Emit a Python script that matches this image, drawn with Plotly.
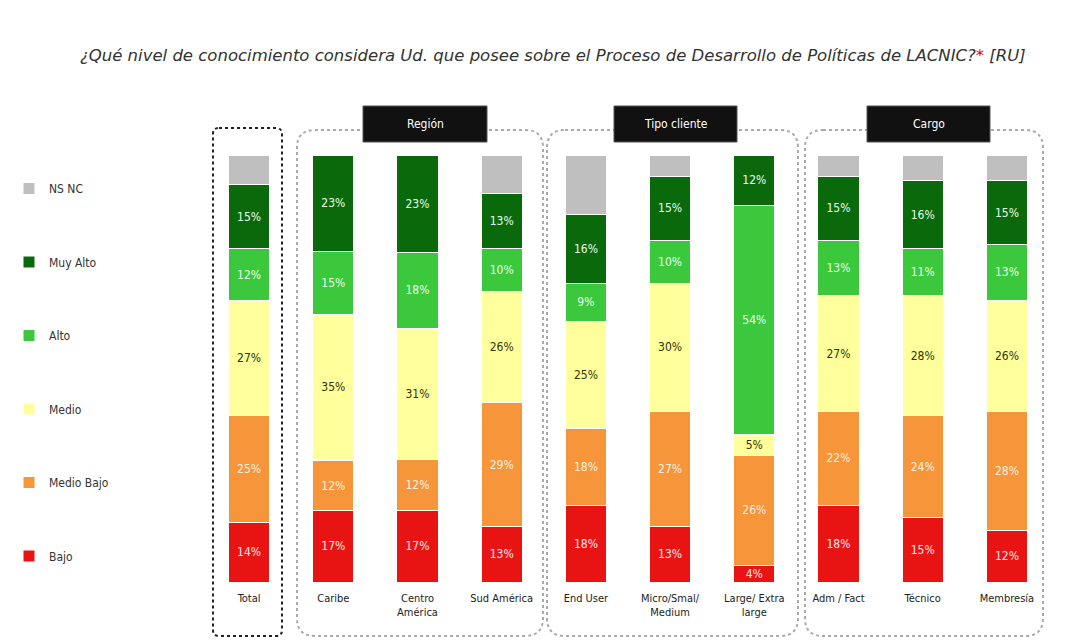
import plotly.graph_objects as go

categories = ["Total", "Caribe", "Centro<br>América", "Sud América", "End User",
              "Micro/Smal/<br>Medium", "Large/ Extra<br>large", "Adm / Fact", "Técnico", "Membresía"]
series_names = ["Bajo", "Medio Bajo", "Medio", "Alto", "Muy Alto", "NS NC"]
bajo       = [14, 17, 17, 13, 18, 13, 4, 18, 15, 12]
medio_bajo = [25, 12, 12, 29, 18, 27, 26, 22, 24, 28]
medio      = [27, 35, 31, 26, 25, 30, 5, 27, 28, 26]
alto       = [12, 15, 18, 10, 9, 10, 54, 13, 11, 13]
muy_alto   = [15, 23, 23, 13, 16, 15, 12, 15, 16, 15]
ns_nc      = [7, 0, 0, 9, 14, 5, 0, 5, 6, 6]
groups = ["Región", "Tipo cliente", "Cargo"]

values = [bajo, medio_bajo, medio, alto, muy_alto, ns_nc]
colors = ["#E81414", "#F7953A", "#FFFF9C", "#3CC83C", "#0A690A", "#BFBFBF"]
text_colors = ["#FFE8E8", "#FFF0E0", "#333300", "#E8FFE8", "#E8FFE8", "#333333"]
show_text = [True, True, True, True, True, False]

OFF = 8  # page body margin
W, H = 1067 - OFF, 640 - OFF
L, R, T, B = 199, 18, 147, 58
PW, PH = W - L - R, H - T - B


def px(x):
    return (x - OFF - L) / PW


def py(y):
    return (H - B - (y - OFF)) / PH


fig = go.Figure()
xs = list(range(len(categories)))
FONT = "DejaVu Sans Condensed, DejaVu Sans"
for i, (name, vals, col, tcol, st) in enumerate(zip(series_names, values, colors, text_colors, show_text)):
    fig.add_trace(go.Bar(
        x=xs, y=vals, name=name, legendgroup=name, legendrank=len(series_names) - i,
        marker=dict(color=col, line=dict(color="white", width=1)),
        width=0.49,
        text=[f"{v}%" if (st and v > 0) else "" for v in vals],
        textposition="inside", insidetextanchor="middle", textangle=0,
        textfont=dict(color=tcol, size=12, family=FONT),
        hoverinfo="skip",
    ))


def rounded_rect(x0, y0, x1, y1, r):
    pts = [
        (x0 + r, y0), (x1 - r, y0), (x1, y0), (x1, y0 + r), (x1, y1 - r), (x1, y1),
        (x1 - r, y1), (x0 + r, y1), (x0, y1), (x0, y1 - r), (x0, y0 + r), (x0, y0), (x0 + r, y0)
    ]
    P = [(px(a), py(b)) for a, b in pts]
    d = f"M {P[0][0]},{P[0][1]} L {P[1][0]},{P[1][1]} Q {P[2][0]},{P[2][1]} {P[3][0]},{P[3][1]} "
    d += f"L {P[4][0]},{P[4][1]} Q {P[5][0]},{P[5][1]} {P[6][0]},{P[6][1]} "
    d += f"L {P[7][0]},{P[7][1]} Q {P[8][0]},{P[8][1]} {P[9][0]},{P[9][1]} "
    d += f"L {P[10][0]},{P[10][1]} Q {P[11][0]},{P[11][1]} {P[12][0]},{P[12][1]} Z"
    return d


shapes = []
shapes.append(dict(type="path", xref="paper", yref="paper", path=rounded_rect(213, 128, 282, 636, 6),
                   line=dict(color="#222222", width=2, dash="dot"), layer="below"))
for x0, x1 in [(297, 543), (547, 798), (805, 1043)]:
    shapes.append(dict(type="path", xref="paper", yref="paper", path=rounded_rect(x0, 130, x1, 636, 18),
                       line=dict(color="#AAAAAA", width=2, dash="dot"), layer="below"))
annotations = []
for (x0, x1), g in zip([(363, 487), (614, 737), (867, 990)], groups):
    shapes.append(dict(type="rect", xref="paper", yref="paper",
                       x0=px(x0), x1=px(x1), y0=py(142), y1=py(106),
                       fillcolor="#111111", line=dict(color="#555555", width=1), layer="above"))
    annotations.append(dict(xref="paper", yref="paper", x=px((x0 + x1) / 2), y=py(124),
                            text=g, showarrow=False, xanchor="center", yanchor="middle",
                            font=dict(color="white", size=12, family=FONT)))

annotations.append(dict(
    xref="paper", yref="paper", x=px(553), y=py(56), xanchor="center", yanchor="middle", showarrow=False,
    text="<i>¿Qué nivel de conocimiento considera Ud. que posee sobre el Proceso de Desarrollo de Políticas de LACNIC?"
         "<span style='color:#E00000'>*</span> [RU]</i>",
    font=dict(size=16.5, color="#333333", family="DejaVu Sans"),
))

fig.update_layout(
    width=W, height=H,
    margin=dict(l=L, r=R, t=T, b=B, autoexpand=False),
    barmode="stack", barnorm="percent",
    plot_bgcolor="white", paper_bgcolor="white",
    shapes=shapes, annotations=annotations,
    uniformtext=dict(minsize=12, mode="show"),
    showlegend=True,
    legend=dict(
        traceorder="grouped", tracegroupgap=54.5,
        x=px(9), xanchor="left", y=py(174), yanchor="top",
        font=dict(size=12, color="#333333", family=FONT),
        itemwidth=30, bgcolor="rgba(0,0,0,0)",
    ),
    xaxis=dict(tickmode="array", tickvals=xs, ticktext=categories, range=[-0.5, 9.5],
               showgrid=False, zeroline=False, showline=False, ticks="",
               ticklabelstandoff=8,
               tickfont=dict(size=11, color="#222222", family=FONT),
               fixedrange=True),
    yaxis=dict(range=[0, 100], showgrid=False, zeroline=False, showline=False,
               showticklabels=False, ticks="", fixedrange=True),
)

fig.write_html("out.html")
